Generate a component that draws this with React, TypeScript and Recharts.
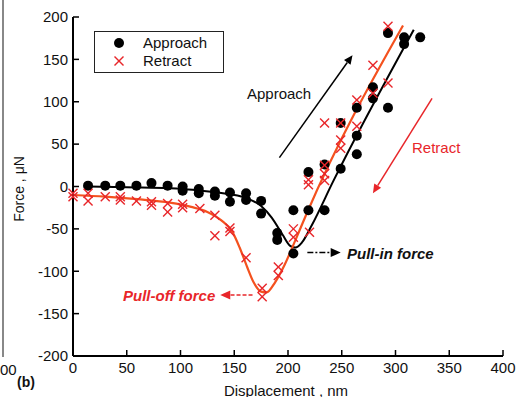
import React from 'react';
import {
  ComposedChart,
  Scatter,
  Line,
  XAxis,
  YAxis,
  ReferenceLine,
} from 'recharts';

// measured force-displacement points
const approachPoints = [
  { x: 14, y: 1 }, { x: 30, y: 1 }, { x: 44, y: 1 }, { x: 59, y: 1 }, { x: 73, y: 4 },
  { x: 88, y: 1 }, { x: 102, y: 0 }, { x: 102, y: -5 }, { x: 117, y: -3 }, { x: 117, y: -8 },
  { x: 132, y: -6 }, { x: 132, y: -11 }, { x: 146, y: -7 }, { x: 146, y: -18 }, { x: 161, y: -8 },
  { x: 161, y: -16 }, { x: 175, y: -17 }, { x: 175, y: -32 }, { x: 190, y: -55 }, { x: 190, y: -63 },
  { x: 205, y: -28 }, { x: 205, y: -79 }, { x: 219, y: 17 }, { x: 219, y: -28 }, { x: 234, y: 26 },
  { x: 234, y: -28 }, { x: 249, y: 21 }, { x: 249, y: 75 }, { x: 264, y: 38 }, { x: 264, y: 60 },
  { x: 264, y: 93 }, { x: 279, y: 104 }, { x: 279, y: 117 }, { x: 293, y: 93 }, { x: 293, y: 181 },
  { x: 308, y: 168 }, { x: 308, y: 176 }, { x: 323, y: 176 },
];

const retractPoints = [
  { x: 0, y: -8 }, { x: 0, y: -12 }, { x: 14, y: -8 }, { x: 14, y: -17 }, { x: 30, y: -12 },
  { x: 44, y: -12 }, { x: 44, y: -16 }, { x: 59, y: -17 }, { x: 73, y: -18 }, { x: 73, y: -22 },
  { x: 88, y: -20 }, { x: 88, y: -30 }, { x: 102, y: -21 }, { x: 102, y: -25 }, { x: 118, y: -26 },
  { x: 132, y: -34 }, { x: 132, y: -58 }, { x: 146, y: -49 }, { x: 146, y: -53 }, { x: 161, y: -84 },
  { x: 176, y: -120 }, { x: 176, y: -130 }, { x: 191, y: -95 }, { x: 191, y: -105 }, { x: 205, y: -50 },
  { x: 205, y: -60 }, { x: 220, y: -54 }, { x: 219, y: 2 }, { x: 219, y: 8 }, { x: 234, y: 7 },
  { x: 234, y: 15 }, { x: 234, y: 25 }, { x: 234, y: 75 }, { x: 249, y: 45 }, { x: 249, y: 55 },
  { x: 249, y: 75 }, { x: 264, y: 71 }, { x: 264, y: 102 }, { x: 279, y: 110 }, { x: 279, y: 143 },
  { x: 293, y: 122 }, { x: 293, y: 189 },
];

// fitted curves
const approachFit = [
  { x: 14, y: 0 }, { x: 50, y: -1 }, { x: 90, y: -2 }, { x: 120, y: -5 }, { x: 145, y: -9 },
  { x: 162, y: -14 }, { x: 175, y: -23 }, { x: 185, y: -37 }, { x: 195, y: -57 }, { x: 202, y: -70 },
  { x: 207, y: -72 }, { x: 213, y: -66 }, { x: 222, y: -46 }, { x: 242, y: 6 }, { x: 317, y: 185 },
];

const retractFit = [
  { x: 0, y: -10 }, { x: 30, y: -12 }, { x: 60, y: -15 }, { x: 90, y: -19 }, { x: 110, y: -24 },
  { x: 125, y: -30 }, { x: 138, y: -40 }, { x: 148, y: -53 }, { x: 155, y: -72 }, { x: 162, y: -95 },
  { x: 168, y: -113 }, { x: 175, y: -124 }, { x: 180, y: -125 }, { x: 188, y: -113 }, { x: 197, y: -92 },
  { x: 207, y: -63 }, { x: 217, y: -33 }, { x: 307, y: 190 },
];

const xTicks = [0, 50, 100, 150, 200, 250, 300, 350, 400];
const yTicks = [-200, -150, -100, -50, 0, 50, 100, 150, 200];

// annotation arrows, in data units
const approachArrow = [{ x: 192, y: 34 }, { x: 260, y: 155 }];
const retractArrow = [{ x: 334, y: 104 }, { x: 279, y: -8 }];
const pullInArrow = [{ x: 218, y: -78 }, { x: 249, y: -78 }];
const pullOffArrow = [{ x: 167, y: -128 }, { x: 137, y: -128 }];

const RED = '#e8262a';
const ORANGE = '#f4511e';
const FONT = '"Liberation Sans", Arial, sans-serif';

const Dot = (props: any) => <circle cx={props.cx} cy={props.cy} r={5} fill="#000" />;

const Cross = (props: any) => {
  const { cx, cy } = props;
  const s = 4.5;
  return (
    <g stroke={RED} strokeWidth={1.4}>
      <line x1={cx - s} y1={cy - s} x2={cx + s} y2={cy + s} />
      <line x1={cx - s} y1={cy + s} x2={cx + s} y2={cy - s} />
    </g>
  );
};

const arrowShape = (color: string, dash?: string, head = 9) => (props: any) => {
  const { x1, y1, x2, y2 } = props;
  const a = Math.atan2(y2 - y1, x2 - x1);
  const bx = x2 - head * Math.cos(a);
  const by = y2 - head * Math.sin(a);
  const w = head * 0.45;
  const px = -Math.sin(a) * w;
  const py = Math.cos(a) * w;
  return (
    <g>
      <line x1={x1} y1={y1} x2={bx} y2={by} stroke={color} strokeWidth={1.5} strokeDasharray={dash} />
      <polygon points={`${x2},${y2} ${bx + px},${by + py} ${bx - px},${by - py}`} fill={color} />
    </g>
  );
};

const text = (style: React.CSSProperties): React.CSSProperties => ({
  position: 'absolute',
  fontFamily: FONT,
  whiteSpace: 'nowrap',
  lineHeight: 1,
  ...style,
});

export default function App() {
  const tickStyle = { fill: '#111', fontSize: 15, fontFamily: FONT };
  return (
    <div style={{ position: 'absolute', left: 0, top: 0, width: 518, height: 397, background: '#fff', overflow: 'hidden' }}>
      {/* edge of the neighbouring panel */}
      <div style={{ position: 'absolute', left: 2, top: 0, width: 1.5, height: 357, background: '#888' }} />
      <div style={text({ left: 0, top: 362, fontSize: 15, color: '#111' })}>00</div>

      <ComposedChart width={518} height={397} margin={{ top: 17, right: 15, bottom: 0, left: 0 }}>
        <XAxis
          xAxisId={0}
          type="number"
          dataKey="x"
          domain={[0, 400]}
          ticks={xTicks}
          interval={0}
          height={41}
          tickSize={-6}
          tickMargin={12}
          tick={tickStyle}
          axisLine={{ stroke: '#000', strokeWidth: 2 }}
          tickLine={{ stroke: '#000', strokeWidth: 1.5 }}
        />
        <XAxis
          xAxisId="top"
          orientation="top"
          type="number"
          dataKey="x"
          domain={[0, 400]}
          ticks={xTicks}
          interval={0}
          height={0}
          tickSize={-6}
          tick={false}
          axisLine={{ stroke: '#000', strokeWidth: 2 }}
          tickLine={{ stroke: '#000', strokeWidth: 1.5 }}
        />
        <YAxis
          yAxisId={0}
          type="number"
          dataKey="y"
          domain={[-200, 200]}
          ticks={yTicks}
          interval={0}
          width={73}
          tickSize={-6}
          tickMargin={11}
          tick={tickStyle}
          axisLine={{ stroke: '#000', strokeWidth: 2 }}
          tickLine={{ stroke: '#000', strokeWidth: 1.5 }}
        />
        <YAxis
          yAxisId="right"
          orientation="right"
          type="number"
          domain={[-200, 200]}
          ticks={yTicks}
          interval={0}
          width={0}
          tickSize={-6}
          tick={false}
          axisLine={{ stroke: '#000', strokeWidth: 2 }}
          tickLine={{ stroke: '#000', strokeWidth: 1.5 }}
        />

        <Line data={approachFit} dataKey="y" type="monotone" stroke="#000" strokeWidth={2} dot={false} isAnimationActive={false} />
        <Line data={retractFit} dataKey="y" type="monotone" stroke={ORANGE} strokeWidth={2.2} dot={false} isAnimationActive={false} />
        <Scatter data={approachPoints} dataKey="y" shape={Dot} isAnimationActive={false} />
        <Scatter data={retractPoints} dataKey="y" shape={Cross} isAnimationActive={false} />

        <ReferenceLine segment={approachArrow} shape={arrowShape('#000')} />
        <ReferenceLine segment={retractArrow} shape={arrowShape(RED)} />
        <ReferenceLine segment={pullInArrow} shape={arrowShape('#000', '6 2 2 2', 10)} />
        <ReferenceLine segment={pullOffArrow} shape={arrowShape(RED, '4 2', 10)} />
      </ComposedChart>

      {/* legend */}
      <div style={{ position: 'absolute', left: 94, top: 31, width: 128, height: 40, border: '1px solid #222', background: '#fff' }}>
        <svg width={20} height={40} style={{ position: 'absolute', left: 14, top: 0 }}>
          <circle cx={10} cy={11} r={5} fill="#000" />
          <g stroke={RED} strokeWidth={1.4}>
            <line x1={5.5} y1={24.5} x2={14.5} y2={33.5} />
            <line x1={5.5} y1={33.5} x2={14.5} y2={24.5} />
          </g>
        </svg>
        <div style={text({ left: 48, top: 3, fontSize: 15, color: '#111' })}>Approach</div>
        <div style={text({ left: 48, top: 21, fontSize: 15, color: '#111' })}>Retract</div>
      </div>

      <div style={text({ left: 247, top: 86, fontSize: 15, color: '#111' })}>Approach</div>
      <div style={text({ left: 412, top: 140, fontSize: 15, color: RED })}>Retract</div>
      <div style={text({ left: 347, top: 246, fontSize: 15, fontWeight: 'bold', fontStyle: 'italic', color: '#111' })}>Pull-in force</div>
      <div style={text({ left: 123, top: 288, fontSize: 15, fontWeight: 'bold', fontStyle: 'italic', color: RED })}>Pull-off force</div>

      <div style={text({ left: 19, top: 189, fontSize: 14, color: '#111', transform: 'translate(-50%, -50%) rotate(-90deg)' })}>Force , μN</div>
      <div style={text({ left: 286, top: 390, fontSize: 15, color: '#111', transform: 'translate(-50%, -50%)' })}>Displacement , nm</div>
      <div style={text({ left: 17, top: 375, fontSize: 14, fontWeight: 'bold', color: '#111' })}>(b)</div>
    </div>
  );
}
